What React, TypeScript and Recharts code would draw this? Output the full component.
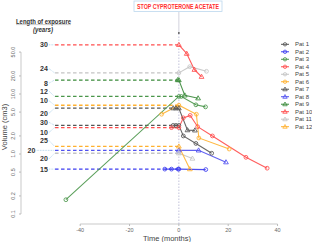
import React from 'react';
import { LineChart, Line, XAxis, YAxis, ReferenceLine, ReferenceDot } from 'recharts';

const patientNames = ['Pat 1', 'Pat 2', 'Pat 3', 'Pat 4', 'Pat 5', 'Pat 6', 'Pat 7', 'Pat 8', 'Pat 9', 'Pat 10', 'Pat 11', 'Pat 12'];
const patientColors = ['#555555', '#3c3cf0', '#4a964a', '#ff4d4d', '#c4c4c4', '#ffb02e', '#555555', '#5050f0', '#3a8a3a', '#ff4d4d', '#c4c4c4', '#ffb02e'];
const patientMarkers = ['circle', 'circle', 'circle', 'circle', 'circle', 'circle', 'triangle', 'triangle', 'triangle', 'triangle', 'triangle', 'triangle'];

const pat1Months = [-2.3, -1.2, 0, 1.8, 6.9, 13.3];
const pat1Volumes = [3.0, 3.0, 3.0, 2.0, 1.5, 1.03];
const pat2Months = [-5.7, -3, -0.3, 0, 10.9];
const pat2Volumes = [0.56, 0.56, 0.56, 0.56, 0.55];
const pat3Months = [-45.8, 0, 1, 6.9, 10.8];
const pat3Volumes = [0.173, 9.1, 9.1, 6.6, 6.1];
const pat4Months = [-3, 0, 1.8, 4.6, 7.6, 13.6, 27.2, 35.8];
const pat4Volumes = [2.75, 2.75, 4.0, 4.4, 2.85, 2.0, 0.88, 0.58];
const pat5Months = [0, 4.4, 11.2];
const pat5Volumes = [22.5, 28.5, 23.9];
const pat6Months = [-7, 0, 7.1, 8.1, 20.4];
const pat6Volumes = [4.6, 6.5, 4.6, 1.85, 1.21];
const pat7Months = [-2.3, -1.2, 0, 3.5, 6.5];
const pat7Volumes = [5.8, 5.8, 5.8, 2.5, 2.48];
const pat8Months = [0, 8, 19.1];
const pat8Volumes = [1.15, 1.15, 0.73];
const pat9Months = [-0.5, 0, 2.4, 7.8];
const pat9Volumes = [17.1, 17.1, 9.5, 8.5];
const pat10Months = [0, 3.2, 6.3, 9.2];
const pat10Volumes = [66, 47, 25.4, 19.4];
const pat11Months = [0, 5.5];
const pat11Volumes = [1.03, 0.84];
const pat12Months = [0, 4.45];
const pat12Volumes = [1.34, 0.56];

const exposureYears = [30, 15, 12, 10, 24, 10, 20, 20, 8, 30, 20, 25];
const exposureLabelVolumes = [3.37, 0.56, 11.1, 2.3, 26.4, 7.7, 4.8, 1.15, 15.2, 66, 0.83, 1.67];

const yTicks = [0.1, 0.2, 0.5, 1, 2, 5, 10, 20, 50];
const xTicks = [-40, -20, 0, 20, 40];

const seriesMonths = [pat1Months, pat2Months, pat3Months, pat4Months, pat5Months, pat6Months, pat7Months, pat8Months, pat9Months, pat10Months, pat11Months, pat12Months];
const seriesVolumes = [pat1Volumes, pat2Volumes, pat3Volumes, pat4Volumes, pat5Volumes, pat6Volumes, pat7Volumes, pat8Volumes, pat9Volumes, pat10Volumes, pat11Volumes, pat12Volumes];

const series = patientNames.map((name, i) => {
  const data = seriesMonths[i].map((t, j) => ({ t, v: seriesVolumes[i][j] }));
  const base = data.find((d) => d.t === 0)?.v ?? data[0].v;
  return { name, color: patientColors[i], marker: patientMarkers[i], data, base, years: exposureYears[i], labelV: exposureLabelVolumes[i] };
});

const X_MIN = -64;
const X_MAX = 41;
const Y_MIN = 0.06813;
const Y_MAX = 232.7;
const DASH_START = -50.2;
const FONT = '"Liberation Sans", Arial, sans-serif';

const makeDot = (color: string, marker: string) => (props: any) => {
  const { cx, cy, index } = props;
  if (cx == null || cy == null) return <g key={`e${index}`} />;
  if (marker === 'circle') {
    return <circle key={`d${index}`} cx={cx} cy={cy} r={1.9} fill="none" stroke={color} strokeWidth={0.85} />;
  }
  const s = 2.5;
  return (
    <path
      key={`d${index}`}
      d={`M${cx},${cy - s} L${cx + s * 0.95},${cy + s * 0.65} L${cx - s * 0.95},${cy + s * 0.65} Z`}
      fill="none"
      stroke={color}
      strokeWidth={0.85}
    />
  );
};

const YTick = (props: any) => {
  const { y, payload } = props;
  const x = 15.5;
  return (
    <text x={x} y={y} transform={`rotate(-90, ${x}, ${y})`} textAnchor="middle" fontSize={5.5} fill="#666" fontFamily={FONT}>
      {Number(payload.value).toFixed(1)}
    </text>
  );
};

const XTick = (props: any) => {
  const { x, payload } = props;
  return (
    <text x={x} y={231.5} textAnchor="middle" fontSize={5.5} fill="#666" fontFamily={FONT}>
      {payload.value}
    </text>
  );
};

export default function App() {
  return (
    <div style={{ position: 'fixed', left: 0, top: 0, width: 312, height: 242, background: '#fff' }}>
      <LineChart width={312} height={242} margin={{ top: 12, right: 32, bottom: 0, left: 0 }}>
        <XAxis
          type="number"
          dataKey="t"
          domain={[X_MIN, X_MAX]}
          allowDataOverflow
          ticks={xTicks}
          interval={0}
          axisLine={false}
          tickLine={{ stroke: '#bbb' }}
          tickSize={2}
          tick={<XTick />}
          height={18}
        />
        <YAxis
          type="number"
          dataKey="v"
          scale="log"
          domain={[Y_MIN, Y_MAX]}
          allowDataOverflow
          ticks={yTicks}
          interval={0}
          axisLine={false}
          tickLine={{ stroke: '#bbb' }}
          tickSize={2}
          tick={<YTick />}
          width={21}
        />
        <ReferenceLine segment={[{ x: X_MIN, y: 0.1 }, { x: X_MIN, y: 50 }]} stroke="#bbb" strokeWidth={0.8} ifOverflow="visible" />
        <ReferenceLine segment={[{ x: -40, y: Y_MIN }, { x: 40, y: Y_MIN }]} stroke="#bbb" strokeWidth={0.8} ifOverflow="visible" />
        <ReferenceLine segment={[{ x: 0, y: 104 }, { x: 0, y: Y_MAX }]} stroke="#c8c8d4" strokeWidth={0.8} ifOverflow="visible" />
        <ReferenceLine segment={[{ x: 0, y: Y_MIN }, { x: 0, y: 104 }]} stroke="#b4b4d0" strokeWidth={0.8} strokeDasharray="1.5 1.5" ifOverflow="visible" />
        <ReferenceDot x={0} y={104} r={0.9} fill="#555" stroke="none" ifOverflow="visible" />
        {series.map((s) => (
          <Line
            key={`dash-${s.name}`}
            data={[{ t: DASH_START, v: s.base }, { t: 0, v: s.base }]}
            dataKey="v"
            stroke={s.color}
            strokeWidth={1.3}
            strokeDasharray="3.5 2.5"
            dot={false}
            legendType="none"
            isAnimationActive={false}
          />
        ))}
        {series.map((s, i) => {
          const startT = i === 7 ? -57.6 : -52.6;
          return (
            <Line
              key={`conn-${s.name}`}
              data={[{ t: startT, v: s.labelV }, { t: -50.4, v: s.base }]}
              dataKey="v"
              stroke="#8fc1e3"
              strokeWidth={0.7}
              strokeDasharray="0.8 0.8"
              dot={false}
              legendType="none"
              isAnimationActive={false}
            />
          );
        })}
        {series.map((s, i) => (
          <ReferenceDot
            key={`lab-${s.name}`}
            x={i === 7 ? -58.2 : -53.1}
            y={s.labelV}
            r={0}
            ifOverflow="visible"
            shape={(p: any) => (
              <text x={p.cx} y={p.cy + 2.5} textAnchor="end" fontSize={7} fontWeight="bold" fill="#333" fontFamily={FONT}>
                {s.years}
              </text>
            )}
          />
        ))}
        {series.map((s) => (
          <Line
            key={s.name}
            name={s.name}
            data={s.data}
            dataKey="v"
            stroke={s.color}
            strokeWidth={1.1}
            strokeOpacity={0.9}
            dot={makeDot(s.color, s.marker)}
            isAnimationActive={false}
          />
        ))}
      </LineChart>
      <svg width={312} height={242} style={{ position: 'absolute', left: 0, top: 0, pointerEvents: 'none' }} fontFamily={FONT}>
        <rect x={134} y={1} width={88} height={10.5} fill="#fff" stroke="#bcd8ee" strokeWidth={0.8} />
        <text x={178} y={9} textAnchor="middle" fontSize={7} fontWeight="bold" fill="#ff3030" textLength={82} lengthAdjust="spacingAndGlyphs">
          STOP CYPROTERONE ACETATE
        </text>
        <text x={16} y={23.5} fontSize={7} fontWeight="bold" fill="#333" textLength={55} lengthAdjust="spacingAndGlyphs">
          Length of exposure
        </text>
        <line x1={16} y1={24.6} x2={71} y2={24.6} stroke="#aaa" strokeWidth={0.6} />
        <text x={33} y={31.5} fontSize={7} fontWeight="bold" fontStyle="italic" fill="#333" textLength={20} lengthAdjust="spacingAndGlyphs">
          (years)
        </text>
        <text x={6.5} y={127} transform="rotate(-90, 6.5, 127)" textAnchor="middle" fontSize={7.5} fill="#444">
          Volume (cm3)
        </text>
        <text x={167} y={241} textAnchor="middle" fontSize={7.5} fill="#444">
          Time (months)
        </text>
        {series.map((s, i) => {
          const cy = 44.3 + i * 7.49;
          const cx = 285;
          const sz = 2.2;
          return (
            <g key={`leg-${s.name}`}>
              <line x1={281} y1={cy} x2={289} y2={cy} stroke={s.color} strokeWidth={1} />
              {s.marker === 'circle' ? (
                <circle cx={cx} cy={cy} r={1.7} fill="none" stroke={s.color} strokeWidth={0.8} />
              ) : (
                <path d={`M${cx},${cy - sz} L${cx + sz},${cy + sz * 0.7} L${cx - sz},${cy + sz * 0.7} Z`} fill="none" stroke={s.color} strokeWidth={0.8} />
              )}
              <text x={295} y={cy + 2} fontSize={6} fill="#444">
                {s.name}
              </text>
            </g>
          );
        })}
      </svg>
    </div>
  );
}
